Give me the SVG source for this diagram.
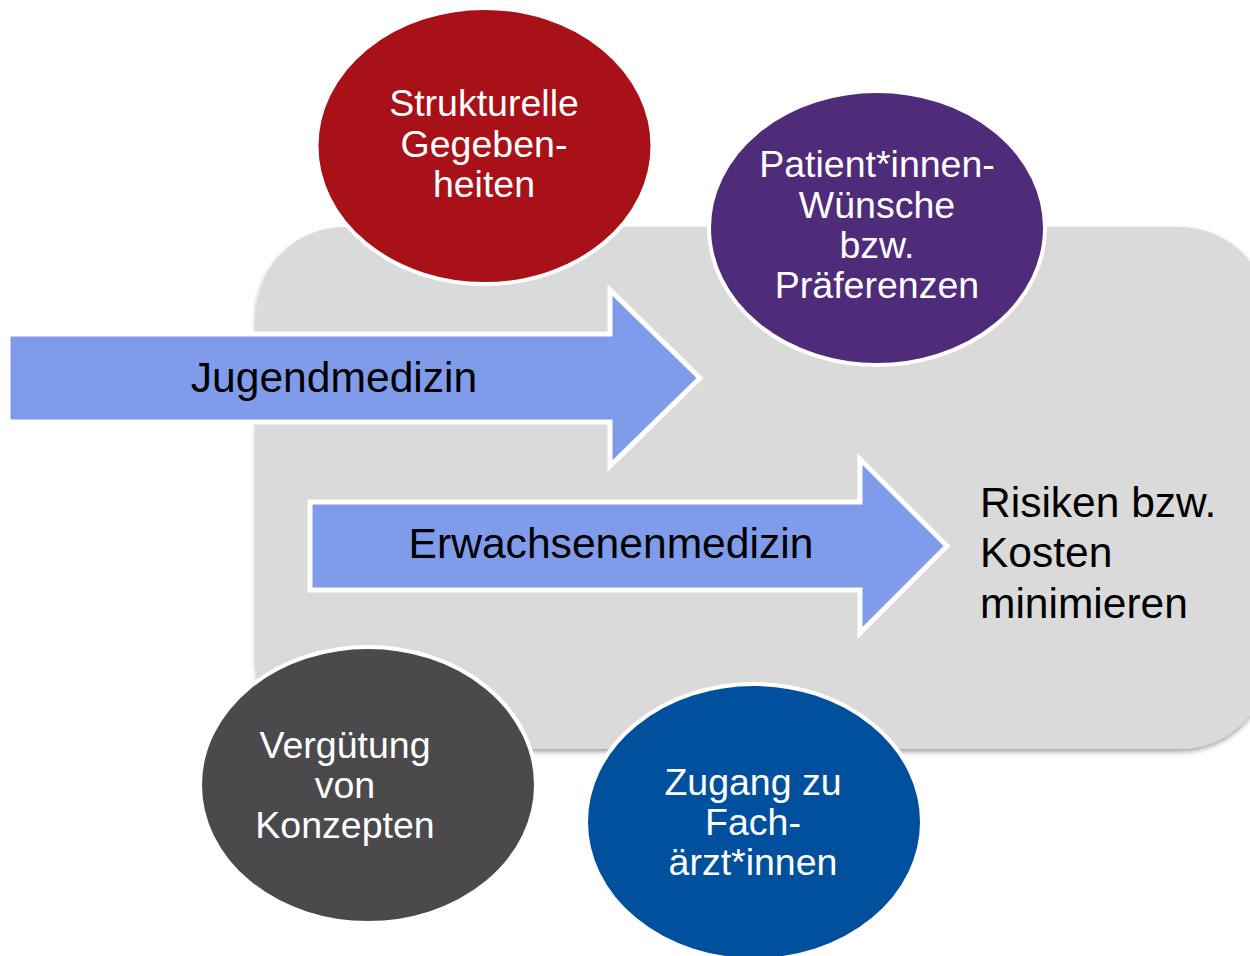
<svg xmlns="http://www.w3.org/2000/svg" width="1250" height="956" viewBox="0 0 1250 956">
<defs>
<style>
.t{font-family:"Liberation Sans",Arial,sans-serif;text-anchor:middle}
.w{fill:#ffffff;font-size:37.5px}
.b{fill:#000000;font-size:42.6px}
.r{font-family:"Liberation Sans",Arial,sans-serif;font-size:42.5px;fill:#000000}
.ell{stroke:#ffffff;stroke-width:4}
.arr{fill:#7f9bea;stroke:#ffffff;stroke-width:5;stroke-linejoin:miter}
</style>
<filter id="sh" x="-5%" y="-5%" width="110%" height="115%">
<feDropShadow dx="0" dy="3" stdDeviation="2.5" flood-color="#000000" flood-opacity="0.35"/>
</filter>
</defs>
<g id="background">
<rect x="256" y="227" width="1012" height="522" rx="88" ry="88" fill="#dadada" filter="url(#sh)"/>
<text class="r" x="980" y="517">Risiken bzw.</text>
<text class="r" x="980" y="567">Kosten</text>
<text class="r" x="980" y="618">minimieren</text>
</g>
<g id="connectors">
<g id="arrow-jugend">
<polygon class="arr" points="8,334 610,334 610,290 700,378 610,466 610,422 8,422"/>
<text class="t b" x="334" y="392">Jugendmedizin</text>
</g>
<g id="arrow-erwachsen">
<polygon class="arr" points="310,502 860,502 860,459 947,546 860,633 860,590 310,590"/>
<text class="t b" x="611" y="558">Erwachsenenmedizin</text>
</g>
</g>
<g id="node-strukturelle">
<ellipse class="ell" cx="484.5" cy="146" rx="168" ry="138" fill="#a91118"/>
<text class="t w" x="484" y="116">Strukturelle</text>
<text class="t w" x="484" y="157">Gegeben-</text>
<text class="t w" x="484" y="197">heiten</text>
</g>
<g id="node-patient">
<ellipse class="ell" cx="877" cy="228" rx="168" ry="137" fill="#4f2c7a"/>
<text class="t w" x="877" y="177">Patient*innen-</text>
<text class="t w" x="877" y="218">Wünsche</text>
<text class="t w" x="877" y="258">bzw.</text>
<text class="t w" x="877" y="298">Präferenzen</text>
</g>
<g id="node-verguetung">
<ellipse class="ell" cx="368" cy="785" rx="168" ry="138" fill="#4a4a4c"/>
<text class="t w" x="345" y="758">Vergütung</text>
<text class="t w" x="345" y="798">von</text>
<text class="t w" x="345" y="838">Konzepten</text>
</g>
<g id="node-zugang">
<ellipse class="ell" cx="754" cy="822" rx="168" ry="138" fill="#00509e"/>
<text class="t w" x="753" y="795">Zugang zu</text>
<text class="t w" x="753" y="835">Fach-</text>
<text class="t w" x="753" y="875">ärzt*innen</text>
</g>
</svg>
